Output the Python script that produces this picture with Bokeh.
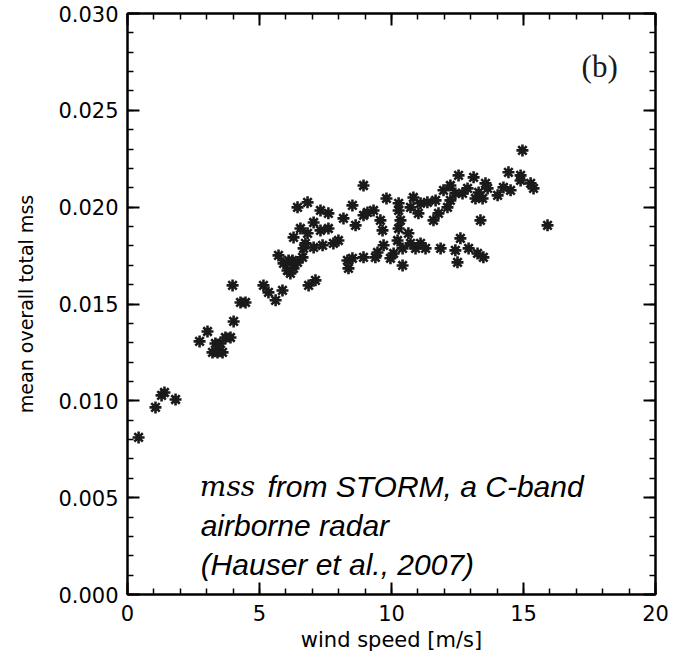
from bokeh.plotting import figure
from bokeh.models import Range1d, FixedTicker, NumeralTickFormatter, LinearAxis, Label
from bokeh.embed import file_html
from bokeh.resources import INLINE

# ---- data ----
wind_speed = [0.42, 1.06, 1.29, 1.40, 1.82, 2.73, 3.03, 3.22, 3.33, 3.41,
              3.52, 3.60, 3.71, 3.90, 4.02, 3.98, 4.28, 4.47, 5.15, 5.34,
              5.61, 5.87, 5.72, 5.91, 6.10, 6.17, 6.29, 6.44, 6.06, 6.25,
              6.63, 6.86, 7.12, 6.44, 6.82, 6.29, 6.55, 6.82, 7.05, 7.31,
              7.61, 7.31, 7.61, 6.74, 7.05, 7.39, 6.67, 7.80, 7.99, 8.18,
              8.52, 8.94, 8.64, 8.94, 9.09, 9.32, 9.58, 9.66, 9.81, 8.33,
              8.37, 8.52, 8.94, 9.39, 9.47, 9.70, 10.08, 10.23, 10.27, 10.27,
              10.34, 10.27, 10.42, 10.42, 9.96, 10.64, 10.72, 10.91, 11.10, 11.29,
              11.86, 12.42, 12.50, 12.61, 12.92, 13.26, 13.48, 10.83, 10.72, 11.10,
              11.02, 11.36, 11.59, 11.78, 11.67, 12.12, 12.23, 11.97, 12.23, 12.54,
              12.42, 12.69, 12.88, 13.11, 13.18, 13.30, 13.56, 13.37, 14.96, 14.43,
              14.89, 14.89, 15.27, 15.38, 13.64, 14.02, 14.24, 14.51, 13.45, 15.91]
mss = [0.00811, 0.00966, 0.01028, 0.01043, 0.01007, 0.01307, 0.01358, 0.01250, 0.01296, 0.01250,
       0.01296, 0.01250, 0.01327, 0.01327, 0.01410, 0.01596, 0.01508, 0.01508, 0.01596, 0.01560,
       0.01519, 0.01570, 0.01751, 0.01710, 0.01725, 0.01658, 0.01684, 0.01715, 0.01673, 0.01725,
       0.01741, 0.01596, 0.01622, 0.01999, 0.02025, 0.01844, 0.01890, 0.01865, 0.01921, 0.01880,
       0.01890, 0.01983, 0.01968, 0.01813, 0.01792, 0.01803, 0.01787, 0.01813, 0.01828, 0.01942,
       0.02009, 0.02112, 0.01906, 0.01958, 0.01973, 0.01983, 0.01932, 0.01880, 0.02045, 0.01725,
       0.01684, 0.01736, 0.01741, 0.01741, 0.01766, 0.01803, 0.01761, 0.01828, 0.02020, 0.01983,
       0.01932, 0.01890, 0.01787, 0.01699, 0.01736, 0.01865, 0.01813, 0.01787, 0.01813, 0.01787,
       0.01787, 0.01777, 0.01715, 0.01839, 0.01787, 0.01761, 0.01741, 0.02050, 0.01999, 0.02020,
       0.01968, 0.02025, 0.01932, 0.01968, 0.02035, 0.01999, 0.02035, 0.02087, 0.02112, 0.02164,
       0.02071, 0.02071, 0.02097, 0.02154, 0.02045, 0.02076, 0.02123, 0.01932, 0.02293, 0.02180,
       0.02164, 0.02138, 0.02123, 0.02097, 0.02097, 0.02061, 0.02102, 0.02087, 0.02045, 0.01906]

x_major = [0, 5, 10, 15, 20]
x_minor = list(range(0, 21))
y_major = [0.0, 0.005, 0.010, 0.015, 0.020, 0.025, 0.030]
y_minor = [round(i * 0.001, 3) for i in range(31)]

x_label = "wind speed [m/s]"
y_label = "mean overall total mss"
panel_tag = "(b)"
note_math = "mss"
note_lines = ["from STORM, a C-band", "airborne radar", "(Hauser et al., 2007)"]

p = figure(width=687, height=660, output_backend="svg", toolbar_location=None,
           x_range=Range1d(0, 20), y_range=Range1d(0, 0.030),
           min_border_left=127, min_border_right=32, min_border_top=13, min_border_bottom=66)
p.grid.visible = False
p.background_fill_color = "white"
p.border_fill_color = "white"
p.outline_line_color = "black"
p.outline_line_width = 2

def style_axis(ax, show_labels=True):
    ax.axis_line_color = "black"
    ax.axis_line_width = 2
    ax.major_tick_line_color = "black"
    ax.major_tick_line_width = 2
    ax.minor_tick_line_color = "black"
    ax.minor_tick_line_width = 1.5
    ax.major_tick_in = 12
    ax.major_tick_out = 0
    ax.minor_tick_in = 6
    ax.minor_tick_out = 0
    ax.major_label_text_font = "DejaVu Sans"
    ax.major_label_text_color = "black"
    ax.major_label_text_font_size = "21px" if show_labels else "0px"
    ax.axis_label_text_font = "DejaVu Sans"
    ax.axis_label_text_font_style = "normal"
    ax.axis_label_text_color = "black"

xt = FixedTicker(ticks=x_major, minor_ticks=x_minor)
yt = FixedTicker(ticks=y_major, minor_ticks=y_minor)

xa = p.xaxis[0]
xa.ticker = xt
xa.axis_label = x_label
style_axis(xa)
xa.axis_label_text_font_size = "21px"
xa.major_label_standoff = 10
xa.axis_label_standoff = 4

ya = p.yaxis[0]
ya.ticker = yt
ya.formatter = NumeralTickFormatter(format="0.000")
ya.axis_label = y_label
style_axis(ya)
ya.axis_label_text_font_size = "19px"
ya.major_label_standoff = 9
ya.axis_label_standoff = 18

top = LinearAxis(ticker=FixedTicker(ticks=x_major, minor_ticks=x_minor))
style_axis(top, show_labels=False)
top.major_label_standoff = 0
p.add_layout(top, "above")

right = LinearAxis(ticker=FixedTicker(ticks=y_major, minor_ticks=y_minor))
style_axis(right, show_labels=False)
right.major_label_standoff = 0
p.add_layout(right, "right")

p.scatter(wind_speed, mss, marker="asterisk", size=12, line_color="#1a1a1a", line_width=2.6)

p.add_layout(Label(x=17.2, y=0.02727, text=panel_tag, text_font="Liberation Serif",
                   text_font_size="31px", text_color="#1a1a1a", text_baseline="alphabetic"))

p.add_layout(Label(x=2.74, y=0.00558, text=note_math, text_font="DejaVu Serif",
                   text_font_style="italic", text_font_size="28px", text_color="black",
                   text_baseline="alphabetic"))
for txt, xx, yy in zip(note_lines, [5.30, 2.77, 2.77], [0.00558, 0.00356, 0.00155]):
    p.add_layout(Label(x=xx, y=yy, text=txt, text_font="Liberation Sans",
                       text_font_style="italic", text_font_size="30px", text_color="black",
                       text_baseline="alphabetic"))

open("out.html", "w").write(file_html(p, INLINE))
